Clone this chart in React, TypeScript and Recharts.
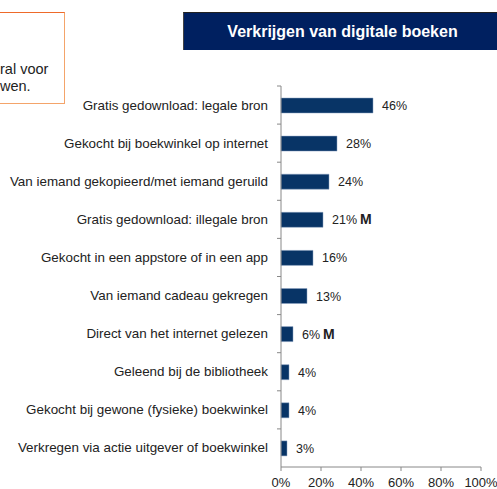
import React from "react";
import { BarChart, Bar, XAxis, YAxis, LabelList } from "recharts";

const categories = [
  "Gratis gedownload: legale bron",
  "Gekocht bij boekwinkel  op internet",
  "Van iemand gekopieerd/met iemand geruild",
  "Gratis gedownload: illegale bron",
  "Gekocht in een appstore of in een app",
  "Van iemand cadeau gekregen",
  "Direct van het internet gelezen",
  "Geleend bij de bibliotheek",
  "Gekocht bij gewone (fysieke) boekwinkel",
  "Verkregen via actie uitgever of boekwinkel",
];
const values = [46, 28, 24, 21, 16, 13, 6, 4, 4, 3];
const markers = ["", "", "", "M", "", "", "M", "", "", ""];
const xTicks = [0, 20, 40, 60, 80, 100];

const data = categories.map((c, i) => ({ name: c, value: values[i], mark: markers[i] }));

const W = 497;
const H = 489;
const M_TOP = 86;
const X_AXIS_H = 22;
const Y_AXIS_W = 281;
const M_RIGHT = 16;
const BAND = (H - M_TOP - X_AXIS_H) / categories.length;
const FONT = "'Liberation Sans', Arial, sans-serif";

const YTick = (props: any) => {
  const { x, y, payload } = props;
  return (
    <g>
      <text x={x} y={y} dy={4.5} textAnchor="end" fontSize={13.4} fill="#222" fontFamily={FONT}>
        {payload.value}
      </text>
      <line x1={Y_AXIS_W - 4} x2={Y_AXIS_W} y1={y - BAND / 2} y2={y - BAND / 2} stroke="#888" />
    </g>
  );
};

const ValueLabel = (props: any) => {
  const { x, y, width, height, index } = props;
  const v = values[index];
  const m = markers[index];
  return (
    <text x={x + width + 9} y={y + height / 2} dy={4.5} fontSize={12.5} fill="#222" fontFamily={FONT}>
      {v}%
      {m ? (
        <tspan fontWeight="bold" fontSize={14} dx={3}>
          {m}
        </tspan>
      ) : null}
    </text>
  );
};

export default function App() {
  return (
    <div style={{ position: "absolute", left: 0, top: 0, width: W, height: H, overflow: "hidden", background: "#fff", fontFamily: FONT }}>
      <div
        style={{
          position: "absolute",
          left: -100,
          top: 12,
          width: 163,
          height: 90,
          border: "1px solid #F4A46A",
          borderTopColor: "#EE6A2A",
        }}
      />
      <div style={{ position: "absolute", left: 0, top: 61, fontSize: 14.5, lineHeight: "17px", color: "#222", whiteSpace: "nowrap" }}>
        ral voor
        <br />
        wen.
      </div>
      <div
        style={{
          position: "absolute",
          left: 183,
          top: 12,
          width: 318,
          height: 38,
          background: "#002060",
          borderLeft: "1px solid #444",
          borderTop: "1px solid #222",
          boxSizing: "border-box",
          color: "#fff",
          fontWeight: "bold",
          fontSize: 16,
          display: "flex",
          alignItems: "center",
          justifyContent: "center",
        }}
      >
        Verkrijgen van digitale boeken
      </div>
      <div style={{ position: "absolute", left: 0, top: 0 }}>
        <BarChart
          width={W}
          height={H}
          data={data}
          layout="vertical"
          margin={{ top: M_TOP, right: M_RIGHT, bottom: 0, left: 0 }}
          barCategoryGap={0}
        >
          <XAxis
            type="number"
            domain={[0, 100]}
            ticks={xTicks}
            tickFormatter={(v) => `${v}%`}
            height={X_AXIS_H}
            axisLine={{ stroke: "#888" }}
            tickLine={{ stroke: "#888" }}
            tickSize={4}
            tickMargin={7}
            tick={{ fontSize: 13, fill: "#222", fontFamily: FONT }}
            interval={0}
          />
          <YAxis
            type="category"
            dataKey="name"
            width={Y_AXIS_W}
            axisLine={{ stroke: "#888" }}
            tickLine={false}
            tickSize={0}
            tickMargin={13}
            tick={<YTick />}
            interval={0}
          />
          <Bar dataKey="value" fill="#083466" stroke="#8aa0c0" strokeWidth={0.5} barSize={15} isAnimationActive={false}>
            <LabelList dataKey="value" content={<ValueLabel />} />
          </Bar>
        </BarChart>
      </div>
    </div>
  );
}
